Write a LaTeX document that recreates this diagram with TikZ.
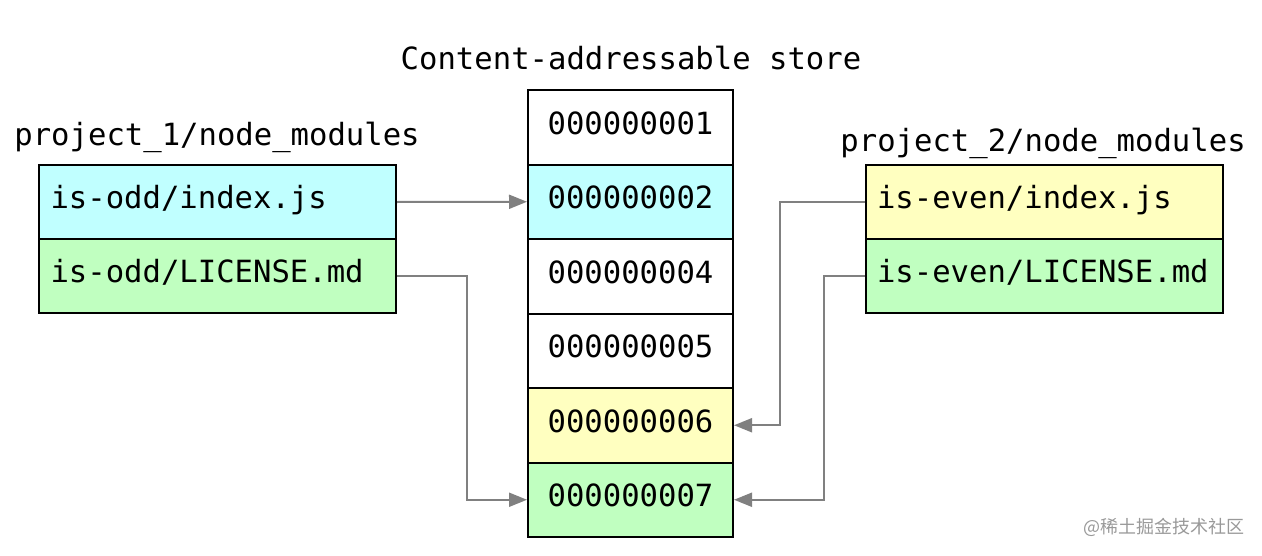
\documentclass[tikz,border=0pt]{standalone}
\usepackage{fontspec}
\setmonofont{DejaVu Sans Mono}
\newfontfamily\cjk{Noto Sans CJK SC}
\usetikzlibrary{arrows.meta}

\definecolor{cellcyan}{RGB}{192,255,255}
\definecolor{cellgreen}{RGB}{192,255,192}
\definecolor{cellyellow}{RGB}{255,255,192}
\definecolor{linkgray}{RGB}{128,128,128}

\tikzset{
  mono/.style={font=\ttfamily\fontsize{15.3}{18}\selectfont},
  filebox/.style={mono, draw, line width=1pt, rectangle, minimum width=178.5pt, minimum height=37pt,
    text width=167pt, align=left, inner xsep=5.5pt, text height=0.75em, text depth=0.12em},
  storebox/.style={mono, draw, line width=1pt, rectangle, minimum width=102.5pt, minimum height=37.25pt,
    text height=0.72em, text depth=0em},
  link/.style={draw=linkgray, line width=1pt, -{Triangle[length=9pt,width=7pt]}, color=linkgray},
}

\begin{document}
\begin{tikzpicture}[x=0.5pt,y=0.5pt,yscale=-1,xscale=1]
  \useasboundingbox (0,0) rectangle (1262,556);

  % Title
  \node (title) [mono, anchor=base, inner sep=0pt] at (631,70) {Content-addressable store};

  % Store
  \node (s1) [storebox] at (630.5,127.25) {000000001};
  \node (s2) [storebox, fill=cellcyan] at (630.5,201.75) {000000002};
  \node (s4) [storebox] at (630.5,276.25) {000000004};
  \node (s5) [storebox] at (630.5,350.75) {000000005};
  \node (s6) [storebox, fill=cellyellow] at (630.5,425.25) {000000006};
  \node (s7) [storebox, fill=cellgreen] at (630.5,499.75) {000000007};

  % project_1
  \node (proj1) [mono, anchor=base west, inner sep=0pt] at (14,145) {project\_1/node\_modules};
  \node (oddjs) [filebox, fill=cellcyan] at (217.5,202) {is-odd/index.js};
  \node (oddlic) [filebox, fill=cellgreen] at (217.5,276) {is-odd/LICENSE.md};

  % project_2
  \node (proj2) [mono, anchor=base west, inner sep=0pt] at (840,151) {project\_2/node\_modules};
  \node (evenjs) [filebox, fill=cellyellow] at (1044,202) {is-even/index.js};
  \node (evenlic) [filebox, fill=cellgreen] at (1044,276) {is-even/LICENSE.md};

  % Links
  \draw [link] (oddjs.east) -- (s2.west);
  \draw [link] (oddlic.east) -- ++(70,0) |- (s7.west);
  \draw [link] (evenjs.west) -- ++(-85,0) |- (s6.east);
  \draw [link] (evenlic.west) -- ++(-41,0) |- (s7.east);

  % Watermark
  \node (mark) [anchor=east, inner sep=0pt, text=black!40, font=\cjk\fontsize{9}{10}\selectfont] at (1245,527) {@稀土掘金技术社区};
\end{tikzpicture}
\end{document}
